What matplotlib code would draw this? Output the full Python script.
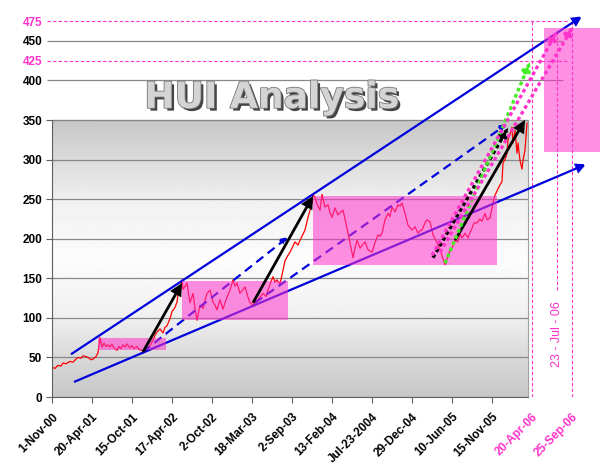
import numpy as np
import matplotlib.pyplot as plt
import matplotlib.patheffects as pe
from matplotlib.patches import Rectangle

# x positions are in "label steps" (0 = 1-Nov-00, 1 = 20-Apr-01, ...)
date_labels = ["1-Nov-00", "20-Apr-01", "15-Oct-01", "17-Apr-02", "2-Oct-02",
               "18-Mar-03", "2-Sep-03", "13-Feb-04", "Jul-23-2004", "29-Dec-04",
               "10-Jun-05", "15-Nov-05", "20-Apr-06", "25-Sep-06"]
pink_dates = ["20-Apr-06", "25-Sep-06"]
y_ticks = [0, 50, 100, 150, 200, 250, 300, 350, 400, 425, 450, 475]
pink_levels = [425, 475]

# HUI index
hui_x = [0.0, 0.075, 0.15, 0.225, 0.275, 0.35, 0.45, 0.525, 0.6, 0.65,
         0.725, 0.775, 0.85, 0.9, 0.975, 1.025, 1.1, 1.15, 1.2, 1.25,
         1.3, 1.35, 1.4, 1.45, 1.5, 1.55, 1.625, 1.675, 1.725, 1.775,
         1.825, 1.875, 1.95, 2.0, 2.05, 2.125, 2.175, 2.25, 2.325, 2.375,
         2.45, 2.525, 2.575, 2.625, 2.7, 2.775, 2.825, 2.875, 2.95, 3.0,
         3.075, 3.125, 3.15, 3.2, 3.25, 3.275, 3.325, 3.375, 3.45, 3.525,
         3.575, 3.625, 3.7, 3.775, 3.825, 3.875, 3.95, 4.025, 4.075, 4.125,
         4.2, 4.275, 4.325, 4.375, 4.45, 4.525, 4.575, 4.625, 4.7, 4.775,
         4.825, 4.9, 4.95, 5.025, 5.1, 5.15, 5.225, 5.275, 5.35, 5.4,
         5.475, 5.525, 5.575, 5.625, 5.7, 5.775, 5.825, 5.9, 5.95, 6.0,
         6.075, 6.15, 6.2, 6.25, 6.325, 6.4, 6.45, 6.5, 6.525, 6.575,
         6.625, 6.7, 6.75, 6.825, 6.9, 6.95, 7.0, 7.075, 7.15, 7.2,
         7.275, 7.325, 7.375, 7.45, 7.525, 7.575, 7.625, 7.7, 7.775, 7.825,
         7.9, 8.0, 8.075, 8.15, 8.2, 8.25, 8.325, 8.4, 8.45, 8.5,
         8.575, 8.65, 8.7, 8.75, 8.825, 8.9, 8.95, 9.0, 9.075, 9.15,
         9.2, 9.25, 9.325, 9.375, 9.45, 9.525, 9.575, 9.625, 9.7, 9.775,
         9.825, 9.85, 9.9, 9.95, 10.0, 10.075, 10.15, 10.2, 10.25, 10.325,
         10.4, 10.45, 10.5, 10.55, 10.625, 10.7, 10.75, 10.825, 10.875, 10.95,
         11.025, 11.075, 11.15, 11.2, 11.25, 11.275, 11.325, 11.375, 11.4, 11.45,
         11.5, 11.525, 11.575, 11.625, 11.65, 11.7, 11.75, 11.775, 11.825, 11.875]
hui_y = [38, 36, 40, 39, 43, 42, 45, 44, 48, 50,
         49, 52, 51, 50, 47, 48, 51, 56, 75, 63,
         68, 64, 66, 63, 67, 62, 59, 64, 61, 66,
         63, 67, 62, 65, 61, 64, 60, 59, 57, 60,
         65, 72, 78, 82, 86, 81, 88, 90, 99, 108,
         113, 120, 130, 138, 148, 136, 140, 144, 119, 131,
         112, 97, 116, 112, 122, 131, 135, 120, 116, 110,
         123, 111, 119, 126, 135, 148, 140, 144, 131, 136,
         139, 126, 119, 116, 121, 123, 128, 131, 127, 135,
         146, 152, 145, 148, 143, 160, 172, 179, 183, 188,
         196, 192, 198, 203, 211, 227, 236, 245, 256, 252,
         244, 236, 256, 240, 243, 233, 227, 239, 230, 233,
         236, 225, 213, 195, 176, 188, 198, 188, 193, 196,
         186, 183, 195, 205, 203, 207, 224, 232, 228, 240,
         234, 243, 241, 245, 232, 217, 214, 211, 215, 207,
         210, 211, 220, 224, 221, 205, 200, 195, 186, 175,
         167, 170, 179, 185, 188, 198, 196, 206, 201, 207,
         201, 208, 213, 220, 220, 225, 222, 232, 224, 226,
         245, 255, 263, 268, 272, 296, 300, 308, 325, 332,
         341, 321, 337, 308, 321, 299, 288, 299, 312, 346]

# consolidation boxes: (x0, x1) and (low, high)
box_x = [(1.15, 2.85), (3.25, 5.9), (6.525, 11.125), (12.3, 14.0)]
box_y = [(59, 74), (97, 147), (167, 254), (310, 466)]

# trend lines / arrows: (start, end)
channel_upper = [(0.475, 54), (13.25, 481)]
channel_lower = [(0.55, 19), (13.35, 294)]
dashed_blue = [[(2.275, 57), (5.9, 202)], [(5.075, 119), (11.375, 345)]]
black_moves = [[(2.275, 57), (3.25, 144)], [(5.025, 119), (6.525, 254)],
               [(10.075, 198), (11.825, 350)]]
black_dotted = [(9.525, 176), (11.4, 340)]
green_dotted = [(9.825, 169), (11.95, 423)]
pink_dotted = [[(9.5, 179), (12.625, 462)], [(9.7, 183), (13.025, 468)]]

target_date_x = 12.625
target_date = "23 - Jul - 06"

PINK = "#ff33cc"
BLUE = "#0000dd"
plot_right = 11.9

fig = plt.figure(figsize=(6, 4.68), dpi=100)
ax = fig.add_axes([52 / 600, 71 / 468, 548 / 600, 397 / 468])
ax.set_xlim(0, 13.7)
ax.set_ylim(0, 397 / 0.7914)

# gray gradient plot area
grad_v = np.linspace(0, 350, 200)
grad = np.interp(grad_v, [0, 50, 100, 175, 250, 300, 350],
                 [0.78, 0.85, 0.94, 0.99, 0.94, 0.86, 0.78])
ax.imshow(grad[:, None], extent=[0, plot_right, 0, 350], origin="lower",
          aspect="auto", cmap="gray", vmin=0, vmax=1, zorder=0)
ax.add_patch(Rectangle((0, 0), plot_right, 350, fill=False, ec="#a0a0a0", lw=0.8, zorder=1))

for v in range(50, 351, 50):
    ax.hlines(v, 0, plot_right, color="#888888", lw=0.9, zorder=1)
for v in [400, 450]:
    ax.hlines(v, -0.12, 12.78, color="#888888", lw=0.9, zorder=1, clip_on=False)
for v in pink_levels:
    ax.hlines(v, -0.12, 12.9, color=PINK, lw=0.8, ls=(0, (3, 2)), zorder=1, clip_on=False)

ax.vlines([12.0, 13.0], 0, 477, color=PINK, lw=0.8, ls=(0, (3, 2)), zorder=1)
ax.vlines(target_date_x, 135, 464, color=PINK, lw=0.8, ls=(0, (3, 2)), zorder=1)
ax.text(target_date_x, 79, target_date, rotation=90, color=PINK, fontsize=9,
        family="Liberation Sans", ha="center", va="center")

ax.plot(hui_x, hui_y, color="#ff0000", lw=0.9, zorder=2)


def arrow(p0, p1, color, lw, ls="-", head=13, z=4):
    ax.annotate("", xy=p1, xytext=p0, zorder=z,
                arrowprops=dict(arrowstyle="-|>", color=color, lw=lw, ls=ls,
                                capstyle="butt", joinstyle="miter",
                                mutation_scale=head, shrinkA=0, shrinkB=0))


# channel
arrow(channel_upper[0], channel_upper[1], BLUE, 1.6, z=3)
arrow(channel_lower[0], channel_lower[1], BLUE, 1.6, z=3)
for p0, p1 in dashed_blue:
    arrow(p0, p1, BLUE, 1.6, ls=(0, (4, 2.5)), head=10, z=3)

for (x0, x1), (y0, y1) in zip(box_x, box_y):
    ax.add_patch(Rectangle((x0, y0), x1 - x0, y1 - y0, fc=PINK, ec="none",
                           alpha=0.55, zorder=3.5))

for p0, p1 in black_moves:
    arrow(p0, p1, "black", 2.0, head=15, z=5)
dot = (0, (1.1, 0.9))
arrow(black_dotted[0], black_dotted[1], "black", 2.4, ls=dot, head=14, z=5)
arrow(green_dotted[0], green_dotted[1], "#44ee22", 2.4, ls=dot, head=14, z=5)
for p0, p1 in pink_dotted:
    arrow(p0, p1, PINK, 2.4, ls=dot, head=14, z=5)

# title
ax.text(5.5, 378, "HUI Analysis", fontsize=26, fontweight="bold", family="DejaVu Sans",
        color="#d4d4d4", ha="center", va="center", zorder=6,
        path_effects=[pe.withSimplePatchShadow(offset=(2, -2), shadow_rgbFace="#303030", alpha=0.9),
                      pe.Stroke(linewidth=1.2, foreground="#777777"), pe.Normal()])

# axes
for s in ["top", "right"]:
    ax.spines[s].set_visible(False)
ax.spines["left"].set_bounds(0, 350)
ax.spines["bottom"].set_bounds(0, plot_right)
ax.spines["left"].set_color("#606060")
ax.spines["bottom"].set_color("#606060")

lab_font = dict(family="Liberation Sans", weight="bold", size=8.5)
ax.set_yticks(y_ticks)
ax.set_yticklabels([str(v) for v in y_ticks], fontdict=lab_font)
ax.set_xticks(range(len(date_labels)))
ax.set_xticklabels(date_labels, rotation=45, ha="right", rotation_mode="anchor",
                   fontdict=lab_font)
ax.tick_params(axis="y", length=4, color="#606060", width=0.8, pad=3)
ax.tick_params(axis="x", length=4, color="#606060", width=0.8, pad=6)
for lab in ax.get_yticklabels():
    if int(lab.get_text()) in pink_levels:
        lab.set_color(PINK)
for lab in ax.get_xticklabels():
    if lab.get_text() in pink_dates:
        lab.set_color(PINK)
for i, t in enumerate(ax.xaxis.get_major_ticks()):
    if date_labels[i] in pink_dates:
        t.tick1line.set_visible(False)
for t, v in zip(ax.yaxis.get_major_ticks(), y_ticks):
    if v > 350:
        t.tick1line.set_visible(False)

fig.savefig("out.png", dpi=100)
